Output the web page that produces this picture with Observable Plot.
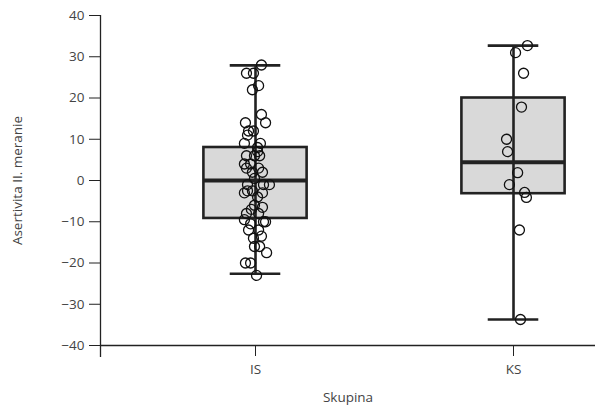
<!DOCTYPE html>
<html>
<head>
<meta charset="utf-8">
<script src="https://cdn.jsdelivr.net/npm/d3@7"></script>
<script src="https://cdn.jsdelivr.net/npm/@observablehq/plot@0.6"></script>
<style>
  html, body { margin: 0; padding: 0; background: #fff; }
  #chart svg { display: block; }
</style>
</head>
<body>
<div id="chart"></div>
<script>
// Categories
const categories = ["IS", "KS"];
const yTicks = [-40, -30, -20, -10, 0, 10, 20, 30, 40];

// Box summaries (per category)
const boxLow    = [-22.6, -33.7];
const boxQ1     = [-9.2, -3.2];
const boxMedian = [0, 4.4];
const boxQ3     = [8, 20];
const boxHigh   = [27.9, 32.7];

// Individual observations (values) and horizontal jitter (fraction of category step)
const isValues = [28, 26, 26, 23, 22, 16, 14, 14, 12, 12, 11, 9, 9, 8, 7, 6, 6, 6, 4, 4, 3, 2, 3, 2, 0.5,
  -1, -1, -1, -2.5, -3, -2.5, -3, -4, -6, -7, -6.5, -8, -8, -9.5, -10, -10, -10.5, -12, -12, -14, -13.5,
  -16, -16, -17.5, -20, -20, -23];
const isJitter = [0.023, -0.035, -0.008, 0.012, -0.012, 0.023, 0.039, -0.039, -0.027, -0.008, -0.031, 0.019,
  -0.043, 0.008, 0.008, -0.035, -0.004, 0.016, -0.043, -0.019, 0.012, 0.027, -0.035, -0.012, -0.004,
  -0.031, 0.031, 0.054, -0.031, -0.043, -0.012, 0.027, 0.008, -0.004, -0.016, 0.027, 0.012, -0.035,
  -0.043, 0.031, 0.039, -0.019, -0.027, 0.012, -0.008, 0.023, -0.004, 0.016, 0.043, -0.039, -0.019, 0.004];
const ksValues = [32.7, 31, 26, 17.8, 10, 7, 1.9, -1, -2.9, -4.1, -12, -33.7];
const ksJitter = [0.054, 0.008, 0.039, 0.031, -0.027, -0.023, 0.016, -0.016, 0.043, 0.050, 0.023, 0.027];

const xTitle = "Skupina";
const yTitle = "Asertivita II. meranie";

// Build tables
const boxes = categories.map((c, i) => ({
  pos: i + 1, low: boxLow[i], q1: boxQ1[i], median: boxMedian[i], q3: boxQ3[i], high: boxHigh[i]
}));
const points = [
  ...isValues.map((v, i) => ({pos: 1 + isJitter[i], value: v})),
  ...ksValues.map((v, i) => ({pos: 2 + ksJitter[i], value: v}))
];

const ink = "#222";
const xDomain = [0.3992, 2.3178];

const chart = Plot.plot({
  width: 595,
  height: 408,
  marginLeft: 100,
  marginRight: 0,
  marginTop: 15,
  marginBottom: 63,
  style: {fontFamily: "'Open Sans', 'Noto Sans', sans-serif", fontSize: "13.5px", color: "#444", background: "#fff"},
  x: {type: "linear", domain: xDomain},
  y: {domain: [-40, 40]},
  marks: [
    // boxes
    Plot.rectY(boxes, {x1: d => d.pos - 0.2, x2: d => d.pos + 0.2, y1: "q1", y2: "q3",
      fill: "#d9d9d9", stroke: ink, strokeWidth: 2.6}),
    // whiskers
    Plot.ruleX(boxes, {x: "pos", y1: "low", y2: "high", stroke: ink, strokeWidth: 2.6}),
    Plot.ruleY(boxes, {y: "low", x1: d => d.pos - 0.098, x2: d => d.pos + 0.098, stroke: ink, strokeWidth: 2.6}),
    Plot.ruleY(boxes, {y: "high", x1: d => d.pos - 0.098, x2: d => d.pos + 0.098, stroke: ink, strokeWidth: 2.6}),
    // median
    Plot.ruleY(boxes, {y: "median", x1: d => d.pos - 0.2, x2: d => d.pos + 0.2, stroke: ink, strokeWidth: 4}),
    // points
    Plot.dot(points, {x: "pos", y: "value", r: 5, stroke: "#111", strokeWidth: 1.3, fill: "none"}),
    // axes
    Plot.ruleY([-40], {stroke: ink, strokeWidth: 1.3}),
    Plot.ruleX([xDomain[0]], {stroke: ink, strokeWidth: 1.3, insetBottom: -12}),
    Plot.axisY({ticks: yTicks, tickSize: 11, tickPadding: 5, stroke: ink, label: null}),
    Plot.axisY({ticks: [], label: yTitle, labelArrow: "none", labelAnchor: "center", labelOffset: 88, dy: -8}),
    Plot.axisX({ticks: [1, 2], tickFormat: d => categories[d - 1], tickSize: 11, tickPadding: 8,
      stroke: ink, label: xTitle, labelArrow: "none", labelAnchor: "center", labelOffset: 56})
  ]
});
document.getElementById("chart").appendChild(chart);
</script>
</body>
</html>
